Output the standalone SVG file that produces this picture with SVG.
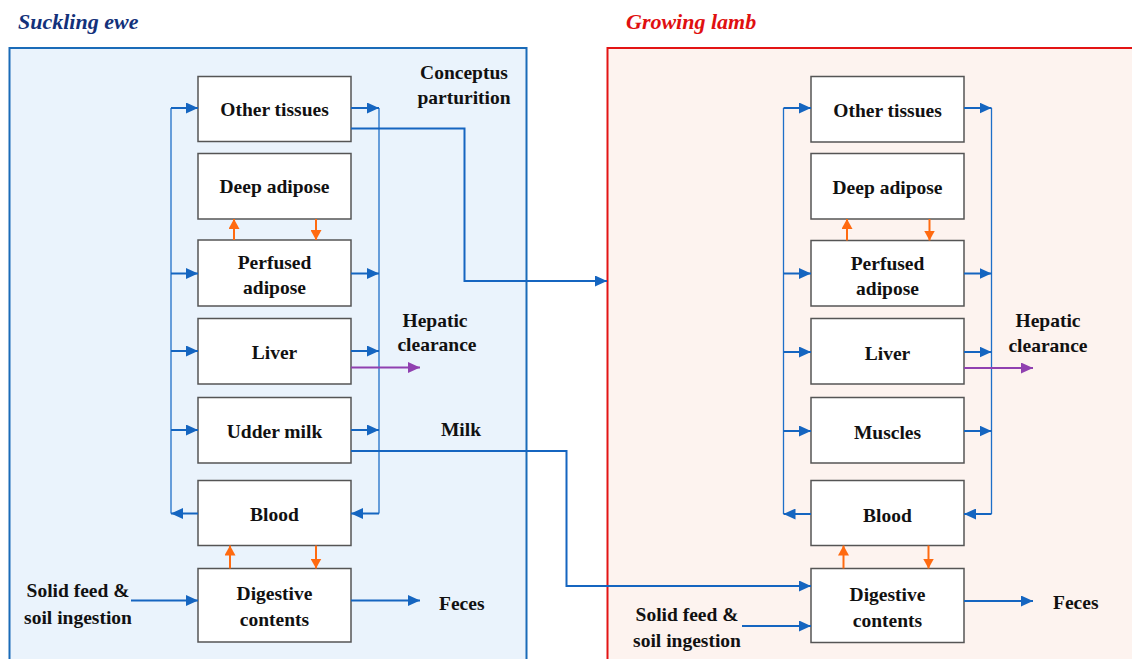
<svg xmlns="http://www.w3.org/2000/svg" width="1132" height="659" viewBox="0 0 1132 659">
<style>
text{font-family:"Liberation Serif","Times New Roman",serif;font-weight:bold;fill:#111;font-size:19.5px}
.lbl{text-anchor:middle}
.title{font-style:italic;font-size:22px}
.box{fill:#fff;stroke:#555;stroke-width:1.5}
.ar{fill:none;stroke:#1565c0;stroke-width:2}
.bus{fill:none;stroke:#1e6fc8;stroke-width:1.3}
.or{fill:none;stroke:#ff6a10;stroke-width:2}
.pu{fill:none;stroke:#9040b0;stroke-width:2}
</style>
<defs>
<marker id="mb" markerUnits="userSpaceOnUse" markerWidth="12" markerHeight="11" refX="12" refY="5.5" orient="auto"><path d="M0,0 L12,5.5 L0,11 z" fill="#1565c0"/></marker>
<marker id="mo" markerUnits="userSpaceOnUse" markerWidth="10" markerHeight="11" refX="10" refY="5.5" orient="auto"><path d="M0,0 L10,5.5 L0,11 z" fill="#ff6a10"/></marker>
<marker id="mp" markerUnits="userSpaceOnUse" markerWidth="12" markerHeight="11" refX="12" refY="5.5" orient="auto"><path d="M0,0 L12,5.5 L0,11 z" fill="#9040b0"/></marker>
</defs>

<!-- panels -->
<g id="panel-ewe">
<rect x="9.5" y="48" width="517" height="630" fill="#eaf3fc" stroke="#1a6bb8" stroke-width="2"/>
<text x="18" y="29" class="title" style="fill:#13317a">Suckling ewe</text>
</g>
<g id="panel-lamb">
<rect x="607.5" y="48" width="540" height="630" fill="#fdf3ef" stroke="#e31414" stroke-width="2"/>
<text x="626" y="29" class="title" style="fill:#e01010">Growing lamb</text>
</g>

<!-- ewe nodes -->
<g id="ewe-other"><rect class="box" x="198" y="76.5" width="153" height="65"/><text class="lbl" x="274.5" y="116">Other tissues</text></g>
<g id="ewe-deep"><rect class="box" x="198" y="153.5" width="153" height="65.5"/><text class="lbl" x="274.5" y="193">Deep adipose</text></g>
<g id="ewe-perfused"><rect class="box" x="198" y="240" width="153" height="66"/><text class="lbl" x="274.5" y="269">Perfused</text><text class="lbl" x="274.5" y="294">adipose</text></g>
<g id="ewe-liver"><rect class="box" x="198" y="318.5" width="153" height="65.5"/><text class="lbl" x="274.5" y="359">Liver</text></g>
<g id="ewe-udder"><rect class="box" x="198" y="397.5" width="153" height="65.5"/><text class="lbl" x="274.5" y="438">Udder milk</text></g>
<g id="ewe-blood"><rect class="box" x="198" y="480.5" width="153" height="65"/><text class="lbl" x="274.5" y="521">Blood</text></g>
<g id="ewe-digestive"><rect class="box" x="198" y="568.5" width="153" height="73.5"/><text class="lbl" x="274.5" y="600">Digestive</text><text class="lbl" x="274.5" y="626">contents</text></g>

<!-- lamb nodes -->
<g id="lamb-other"><rect class="box" x="811" y="76.5" width="153" height="65.5"/><text class="lbl" x="887.5" y="117">Other tissues</text></g>
<g id="lamb-deep"><rect class="box" x="811" y="153.5" width="153" height="65.5"/><text class="lbl" x="887.5" y="194">Deep adipose</text></g>
<g id="lamb-perfused"><rect class="box" x="811" y="240.5" width="153" height="65.5"/><text class="lbl" x="887.5" y="270">Perfused</text><text class="lbl" x="887.5" y="295">adipose</text></g>
<g id="lamb-liver"><rect class="box" x="811" y="318.5" width="153" height="65.5"/><text class="lbl" x="887.5" y="360">Liver</text></g>
<g id="lamb-muscles"><rect class="box" x="811" y="397.5" width="153" height="65.5"/><text class="lbl" x="887.5" y="439">Muscles</text></g>
<g id="lamb-blood"><rect class="box" x="811" y="480.5" width="153" height="65"/><text class="lbl" x="887.5" y="522">Blood</text></g>
<g id="lamb-digestive"><rect class="box" x="811" y="568.5" width="153" height="74"/><text class="lbl" x="887.5" y="601">Digestive</text><text class="lbl" x="887.5" y="627">contents</text></g>

<!-- free labels -->
<g id="labels">
<text class="lbl" x="464" y="79">Conceptus</text>
<text class="lbl" x="464" y="104">parturition</text>
<text class="lbl" x="435" y="327">Hepatic</text>
<text class="lbl" x="437" y="351">clearance</text>
<text class="lbl" x="461" y="436">Milk</text>
<text class="lbl" x="78" y="597">Solid feed &amp;</text>
<text class="lbl" x="78" y="624">soil ingestion</text>
<text x="439" y="610">Feces</text>
<text class="lbl" x="1048" y="327">Hepatic</text>
<text class="lbl" x="1048" y="352">clearance</text>
<text class="lbl" x="687" y="621">Solid feed &amp;</text>
<text class="lbl" x="687" y="647">soil ingestion</text>
<text x="1053" y="609">Feces</text>
</g>

<g id="connectors">
<!-- ewe buses -->
<path class="bus" d="M171,108 V513.5"/>
<path class="bus" d="M379,108 V513.5"/>
<path class="ar" d="M171,108 H198" marker-end="url(#mb)"/>
<path class="ar" d="M171,273.5 H198" marker-end="url(#mb)"/>
<path class="ar" d="M171,351 H198" marker-end="url(#mb)"/>
<path class="ar" d="M171,430 H198" marker-end="url(#mb)"/>
<path class="ar" d="M198,513.5 H171" marker-end="url(#mb)"/>
<path class="ar" d="M351,108 H379" marker-end="url(#mb)"/>
<path class="ar" d="M351,273.5 H379" marker-end="url(#mb)"/>
<path class="ar" d="M351,351 H379" marker-end="url(#mb)"/>
<path class="ar" d="M351,430 H379" marker-end="url(#mb)"/>
<path class="ar" d="M379,513.5 H351" marker-end="url(#mb)"/>
<!-- ewe orange -->
<path class="or" d="M234,240 V219" marker-end="url(#mo)"/>
<path class="or" d="M316,219 V240" marker-end="url(#mo)"/>
<path class="or" d="M230,568.5 V545.5" marker-end="url(#mo)"/>
<path class="or" d="M316,545.5 V568.5" marker-end="url(#mo)"/>
<!-- ewe purple -->
<path class="pu" d="M351,367.5 H420" marker-end="url(#mp)"/>
<!-- ewe feed / feces -->
<path class="ar" d="M131,600.5 H198" marker-end="url(#mb)"/>
<path class="ar" d="M351,600.5 H420" marker-end="url(#mb)"/>
<!-- conceptus -->
<path class="ar" d="M351,128.5 H464.5 V281 H607" marker-end="url(#mb)"/>
<!-- milk -->
<path class="ar" d="M351,451 H566.5 V586 H811" marker-end="url(#mb)"/>

<!-- lamb buses -->
<path class="bus" d="M783.5,108 V514"/>
<path class="bus" d="M991.5,108 V514"/>
<path class="ar" d="M783.5,108 H811" marker-end="url(#mb)"/>
<path class="ar" d="M783.5,273.5 H811" marker-end="url(#mb)"/>
<path class="ar" d="M783.5,352 H811" marker-end="url(#mb)"/>
<path class="ar" d="M783.5,431 H811" marker-end="url(#mb)"/>
<path class="ar" d="M811,514 H783.5" marker-end="url(#mb)"/>
<path class="ar" d="M964,108 H991.5" marker-end="url(#mb)"/>
<path class="ar" d="M964,273.5 H991.5" marker-end="url(#mb)"/>
<path class="ar" d="M964,352 H991.5" marker-end="url(#mb)"/>
<path class="ar" d="M964,431 H991.5" marker-end="url(#mb)"/>
<path class="ar" d="M991.5,514 H964" marker-end="url(#mb)"/>
<!-- lamb orange -->
<path class="or" d="M847,240.5 V219" marker-end="url(#mo)"/>
<path class="or" d="M929.5,219 V240.5" marker-end="url(#mo)"/>
<path class="or" d="M843.5,568.5 V545.5" marker-end="url(#mo)"/>
<path class="or" d="M928.5,545.5 V568.5" marker-end="url(#mo)"/>
<!-- lamb purple -->
<path class="pu" d="M964,368 H1033" marker-end="url(#mp)"/>
<!-- lamb feed / feces -->
<path class="ar" d="M742,626 H811" marker-end="url(#mb)"/>
<path class="ar" d="M964,601 H1033" marker-end="url(#mb)"/>
</g>
</svg>
